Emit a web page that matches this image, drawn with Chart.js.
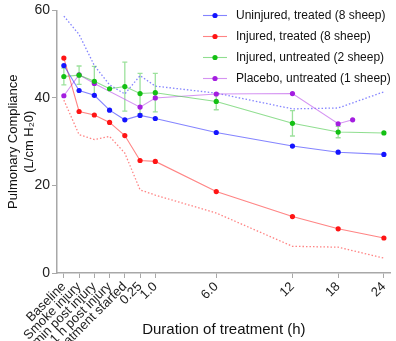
<!DOCTYPE html>
<html>
<head>
<meta charset="utf-8">
<script src="https://cdn.jsdelivr.net/npm/chart.js@4.4.0/dist/chart.umd.min.js"></script>
<style>
  html, body { margin: 0; padding: 0; background: #fff; }
  #wrap { width: 396px; height: 341px; }
</style>
</head>
<body>
<div id="wrap"><canvas id="chart" width="396" height="341"></canvas></div>
<script>
// Pulmonary compliance over the course of treatment, four groups of sheep.

const timeLabels = ['Baseline', 'Smoke injury', '30 min post injury', '1 h post injury',
  'Treatment started', '0.25', '1.0', '6.0', '12', '18', '24'];
// axis position of each time point (the time axis is not to scale)
const timePos = [0, 1, 2, 3, 4, 5, 6, 10, 15, 18, 21];
const placeboPos = [0, 1, 2, 3, 4, 5, 6, 10, 15, 18, 18.95];

const yTicks = [0, 20, 40, 60];

const uninjuredTreated      = [47.4, 41.7, 40.6, 37.2, 35.0, 36.0, 35.3, 32.1, 29.0, 27.6, 27.1];
const uninjuredTreatedUpper = [58.7, 54.5, 47.4, 43.0, 40.9, 45.1, 42.7, 41.1, 37.5, 37.7, 41.4];
const injuredTreated        = [49.1, 36.9, 36.1, 34.4, 31.4, 25.7, 25.5, 18.6, 12.9, 10.1, 8.0];
const injuredTreatedLower   = [39.5, 31.6, 30.5, 31.2, 27.4, 19.0, 17.8, 13.7, 6.1, 5.9, 3.4];
const injuredUntreated      = [44.9, 45.2, 43.8, 42.1, 42.6, 41.0, 41.2, 39.2, 34.2, 32.2, 32.0];
const injuredUntreatedErr   = [1.9, 2.1, 3.4, 0, 5.6, 4.6, 4.4, 1.9, 2.9, 1.3, 0];
const placebo               = [40.5, 45.3, 43.3, null, null, 37.9, 40.0, 40.9, 41.0, 34.1, 35.0];

const seriesNames = ['Uninjured, treated (8 sheep)', 'Injured, treated (8 sheep)',
  'Injured, untreated (2 sheep)', 'Placebo, untreated (1 sheep)'];

const FONT = '"Liberation Sans", Arial, Helvetica, sans-serif';
const colors = {
  blue:   {pt: '#1414ff', line: 'rgba(50,50,255,0.6)'},
  red:    {pt: '#ff1414', line: 'rgba(255,50,50,0.6)'},
  green:  {pt: '#14c014', line: 'rgba(70,200,70,0.6)'},
  purple: {pt: '#a41ee0', line: 'rgba(190,90,235,0.65)'}
};

function pts(xs, ys) {
  return ys.map((v, i) => ({x: xs[i], y: v}));
}

function series(label, xs, ys, c, extra) {
  return Object.assign({
    label: label,
    data: pts(xs, ys),
    borderColor: c.line,
    backgroundColor: c.pt,
    pointBackgroundColor: c.pt,
    pointBorderWidth: 0,
    pointRadius: 2.6,
    borderWidth: 1.1,
    tension: 0,
    spanGaps: true
  }, extra || {});
}

function dotted(ys, c) {
  return {
    label: '',
    data: pts(timePos, ys),
    borderColor: c.line,
    borderWidth: 1.3,
    borderDash: [1.5, 2],
    pointRadius: 0,
    tension: 0,
    legendSkip: true
  };
}

// error bars for the untreated group, drawn under the points
const errorBars = {
  id: 'errorBars',
  beforeDatasetsDraw(chart) {
    const meta = chart.getDatasetMeta(2);
    const ys = chart.scales.y;
    const ctx = chart.ctx;
    ctx.save();
    ctx.strokeStyle = 'rgba(90,205,90,0.6)';
    ctx.lineWidth = 1.3;
    meta.data.forEach((p, i) => {
      const e = injuredUntreatedErr[i];
      if (!e) return;
      const v = injuredUntreated[i];
      const top = ys.getPixelForValue(v + e), bot = ys.getPixelForValue(v - e);
      ctx.beginPath();
      ctx.moveTo(p.x, top); ctx.lineTo(p.x, bot);
      ctx.moveTo(p.x - 2.5, top); ctx.lineTo(p.x + 2.5, top);
      ctx.moveTo(p.x - 2.5, bot); ctx.lineTo(p.x + 2.5, bot);
      ctx.stroke();
    });
    ctx.restore();
  }
};

// legend in the upper right corner: short line with a dot, then the name
const cornerLegend = {
  id: 'cornerLegend',
  afterDraw(chart) {
    const ctx = chart.ctx;
    const list = [colors.blue, colors.red, colors.green, colors.purple];
    ctx.save();
    ctx.font = '12px ' + FONT;
    ctx.textBaseline = 'middle';
    list.forEach((c, i) => {
      const y = 15.5 + i * 21;
      ctx.strokeStyle = c.line;
      ctx.lineWidth = 1.1;
      ctx.beginPath(); ctx.moveTo(203, y); ctx.lineTo(227, y); ctx.stroke();
      ctx.fillStyle = c.pt;
      ctx.beginPath(); ctx.arc(215, y, 2.6, 0, Math.PI * 2); ctx.fill();
      ctx.fillStyle = '#111';
      ctx.fillText(seriesNames[i], 236, y);
    });
    ctx.restore();
  }
};

new Chart(document.getElementById('chart'), {
  type: 'line',
  data: {
    datasets: [
      series(seriesNames[0], timePos, uninjuredTreated, colors.blue),
      series(seriesNames[1], timePos, injuredTreated, colors.red),
      series(seriesNames[2], timePos, injuredUntreated, colors.green),
      series(seriesNames[3], placeboPos, placebo, colors.purple),
      dotted(uninjuredTreatedUpper, colors.blue),
      dotted(injuredTreatedLower, colors.red)
    ]
  },
  options: {
    responsive: false,
    animation: false,
    layout: {padding: {top: 10, right: 0, bottom: 0, left: 0}},
    plugins: {legend: {display: false}, tooltip: {enabled: false}},
    scales: {
      x: {
        type: 'linear',
        min: -0.45,
        max: 21.45,
        afterBuildTicks: (scale) => { scale.ticks = timePos.map(v => ({value: v})); },
        afterFit: (scale) => { scale.height = 68; },
        ticks: {
          autoSkip: false,
          maxRotation: 45,
          minRotation: 45,
          padding: 1,
          color: '#222',
          font: {family: FONT, size: 13},
          callback: (v, i) => timeLabels[i]
        },
        grid: {drawOnChartArea: false, drawTicks: true, tickLength: 5, color: '#a8a8a8'},
        border: {color: '#a8a8a8', width: 1.5},
        title: {
          display: true,
          text: 'Duration of treatment (h)',
          color: '#111',
          font: {family: FONT, size: 15},
          padding: {top: 0, bottom: 2}
        }
      },
      y: {
        min: 0,
        max: 60,
        afterBuildTicks: (scale) => { scale.ticks = yTicks.map(v => ({value: v})); },
        afterFit: (scale) => { scale.width = 57; },
        ticks: {color: '#222', padding: 2, font: {family: FONT, size: 14}},
        grid: {drawOnChartArea: false, drawTicks: true, tickLength: 5, color: '#a8a8a8'},
        border: {color: '#a8a8a8', width: 1.5},
        title: {
          display: true,
          text: ['Pulmonary Compliance', '(L/cm H\u20820)'],
          color: '#111',
          font: {family: FONT, size: 13},
          padding: {top: 6, bottom: 0}
        }
      }
    }
  },
  plugins: [errorBars, cornerLegend]
});
</script>
</body>
</html>
